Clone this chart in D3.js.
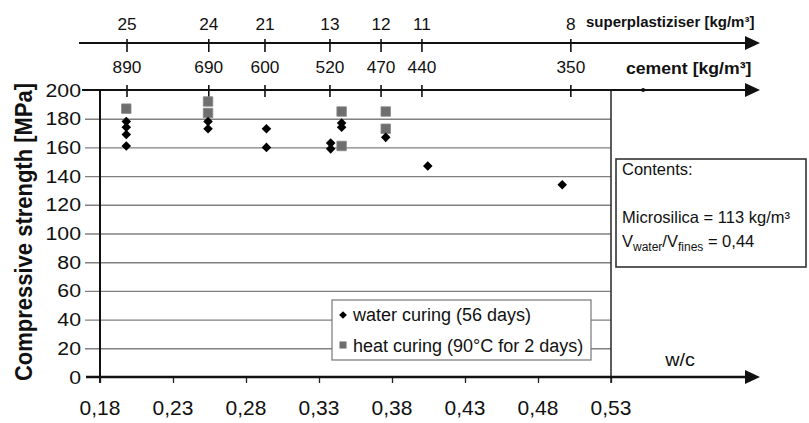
<!DOCTYPE html>
<html><head><meta charset="utf-8">
<script src="https://cdn.jsdelivr.net/npm/d3@7"></script>
<style>
html,body{margin:0;padding:0;background:#fff;}
svg{display:block;font-family:"Liberation Sans",Arial,sans-serif;}
</style></head>
<body><svg id="c" width="809" height="423"></svg>
<script>
// ---- data ----
const xTickValues = [0.18, 0.23, 0.28, 0.33, 0.38, 0.43, 0.48, 0.53];
const xTickLabels = ["0,18", "0,23", "0,28", "0,33", "0,38", "0,43", "0,48", "0,53"];
const yTickValues = [0, 20, 40, 60, 80, 100, 120, 140, 160, 180, 200];
const mixWc = [0.1985, 0.2545, 0.293, 0.3375, 0.3725, 0.4005, 0.5025];
const superplastiziser = [25, 24, 21, 13, 12, 11, 8];
const cement = [890, 690, 600, 520, 470, 440, 350];
const waterWc = [0.198, 0.198, 0.198, 0.198, 0.254, 0.254, 0.294, 0.294, 0.338, 0.338, 0.3455, 0.3455, 0.3757, 0.4045, 0.4966];
const waterStrength = [178, 174, 169, 161, 178, 173, 173, 160, 163, 159, 177, 174, 167, 147, 134];
const heatWc = [0.198, 0.254, 0.254, 0.3455, 0.3455, 0.3757, 0.3757];
const heatStrength = [187, 192, 184, 185, 161, 185, 173];
const strayDotWc = [0.552];
const strayDotValue = [200];
const seriesNames = ["water curing (56 days)", "heat curing (90°C for 2 days)"];

// ---- layout ----
const svg = d3.select("#c");
const x = d3.scaleLinear().domain([0.18, 0.53]).range([100, 611]);
const y = d3.scaleLinear().domain([0, 200]).range([377, 90]);
const arrowEnd = 760, supY = 43, cemY = y(200);
const FONT = '"Liberation Sans",Arial,sans-serif';

function label(g, tx, ty, txt, o) {
  o = Object.assign({size: 16, weight: "normal", anchor: "middle", sx: 1}, o || {});
  return g.append("text")
    .attr("transform", `translate(${tx},${ty}) scale(${o.sx},1)`)
    .attr("text-anchor", o.anchor)
    .style("font-family", FONT).style("font-size", o.size + "px").style("font-weight", o.weight)
    .attr("fill", "#111").text(txt);
}
function arrowLine(g, x0, yy, w) {
  g.append("line").attr("x1", x0).attr("x2", arrowEnd - 12).attr("y1", yy).attr("y2", yy)
    .attr("stroke", "#111").attr("stroke-width", w);
  g.append("path").attr("d", `M${arrowEnd - 15},${yy - 7}L${arrowEnd},${yy}L${arrowEnd - 15},${yy + 7}Z`).attr("fill", "#111");
}

// gridlines (20..180) with left tick stubs
const grid = svg.append("g").attr("transform", `translate(${x(0.53)},0)`)
  .call(d3.axisLeft(y).tickValues(yTickValues.filter(v => v > 0 && v < 200)).tickSize(x(0.53) - 85).tickFormat(""));
grid.select(".domain").remove();
grid.selectAll("line").attr("stroke", "#808080").attr("stroke-width", 1.4);

// y tick labels
const yl = svg.append("g");
yTickValues.forEach(v => label(yl, 81, y(v) + 6.5, String(v), {size: 18.5, anchor: "end", sx: 1.15}));

// y axis line
svg.append("line").attr("x1", x(0.18)).attr("x2", x(0.18)).attr("y1", y(200)).attr("y2", y(0) + 6)
  .attr("stroke", "#111").attr("stroke-width", 2);
// right vertical line at 0.53
svg.append("line").attr("x1", x(0.53)).attr("x2", x(0.53)).attr("y1", y(200)).attr("y2", y(0) + 6)
  .attr("stroke", "#333").attr("stroke-width", 1.6);

// bottom axis
const xa = svg.append("g").attr("transform", `translate(0,${y(0)})`)
  .call(d3.axisBottom(x).tickValues(xTickValues).tickSize(6).tickFormat(""));
xa.select(".domain").remove();
xa.selectAll("line").attr("stroke", "#222").attr("stroke-width", 1.3);
arrowLine(svg, 86, y(0), 2.6);
const xl = svg.append("g");
xTickValues.forEach((v, i) => label(xl, x(v), 415, xTickLabels[i], {size: 20, sx: 1.05}));
label(svg, 680, 366, "w/c", {size: 18, sx: 1.1});

// top axes
arrowLine(svg, 79, supY, 2);
arrowLine(svg, 82, cemY, 2);
const ta = svg.append("g");
mixWc.forEach((w, i) => {
  ta.append("line").attr("x1", x(w)).attr("x2", x(w)).attr("y1", supY - 4).attr("y2", supY + 9)
    .attr("stroke", "#111").attr("stroke-width", 1.6);
  ta.append("line").attr("x1", x(w)).attr("x2", x(w)).attr("y1", cemY - 5).attr("y2", cemY + 7)
    .attr("stroke", "#111").attr("stroke-width", 1.6);
  label(ta, x(w), 30, String(superplastiziser[i]), {size: 16, sx: 1.08});
  label(ta, x(w), 73, String(cement[i]), {size: 16, sx: 1.08});
});
label(svg, 586, 27, "superplastiziser [kg/m³]", {size: 15, weight: "bold", anchor: "start", sx: 1.0});
label(svg, 626, 74, "cement [kg/m³]", {size: 16.8, weight: "bold", anchor: "start", sx: 1.05});
svg.selectAll(null).data(strayDotWc).enter().append("circle")
  .attr("cx", d => x(d)).attr("cy", (d, i) => y(strayDotValue[i])).attr("r", 2).attr("fill", "#111");

// y title
svg.append("text").attr("transform", `translate(32,232) scale(1.12,1) rotate(-90)`)
  .attr("text-anchor", "middle").style("font-family", FONT).style("font-size", "22px").style("font-weight", "bold")
  .attr("fill", "#111").text("Compressive strength [MPa]");

// contents box
const cb = svg.append("g");
cb.append("rect").attr("x", 616).attr("y", 159).attr("width", 190).attr("height", 108)
  .attr("fill", "#fff").attr("stroke", "#333").attr("stroke-width", 1.6);
label(cb, 622, 175, "Contents:", {size: 16.5, anchor: "start"});
label(cb, 622, 223, "Microsilica = 113 kg/m³", {size: 16.5, anchor: "start"});
const vt = cb.append("text").attr("x", 622).attr("y", 247).style("font-family", FONT).style("font-size", "16.5px").attr("fill", "#111");
vt.append("tspan").text("V");
vt.append("tspan").attr("dy", 4).style("font-size", "12px").text("water");
vt.append("tspan").attr("dy", -4).text("/V");
vt.append("tspan").attr("dy", 4).style("font-size", "12px").text("fines");
vt.append("tspan").attr("dy", -4).text(" = 0,44");

// points
const diamond = d3.symbol().type(d3.symbolSquare).size(46);
const square = d3.symbol().type(d3.symbolSquare).size(90);
svg.append("g").selectAll("path").data(heatWc).enter().append("path")
  .attr("d", square).attr("transform", (d, i) => `translate(${x(d)},${y(heatStrength[i])})`)
  .attr("fill", "#6e6e6e").attr("stroke", "#888").attr("stroke-width", 0.8);
svg.append("g").selectAll("path").data(waterWc).enter().append("path")
  .attr("d", diamond).attr("transform", (d, i) => `translate(${x(d)},${y(waterStrength[i])}) rotate(45)`)
  .attr("fill", "#000");

// legend
const lg = svg.append("g");
lg.append("rect").attr("x", 332).attr("y", 300).attr("width", 259).attr("height", 60)
  .attr("fill", "#fff").attr("stroke", "#777").attr("stroke-width", 1.2);
lg.append("path").attr("d", d3.symbol().type(d3.symbolSquare).size(30)).attr("transform", "translate(343,315) rotate(45)").attr("fill", "#000");
lg.append("path").attr("d", d3.symbol().type(d3.symbolSquare).size(50)).attr("transform", "translate(343,345)").attr("fill", "#6e6e6e");
label(lg, 353, 321, seriesNames[0], {size: 18, anchor: "start"});
label(lg, 353, 352, seriesNames[1], {size: 18, anchor: "start"});
</script></body></html>
